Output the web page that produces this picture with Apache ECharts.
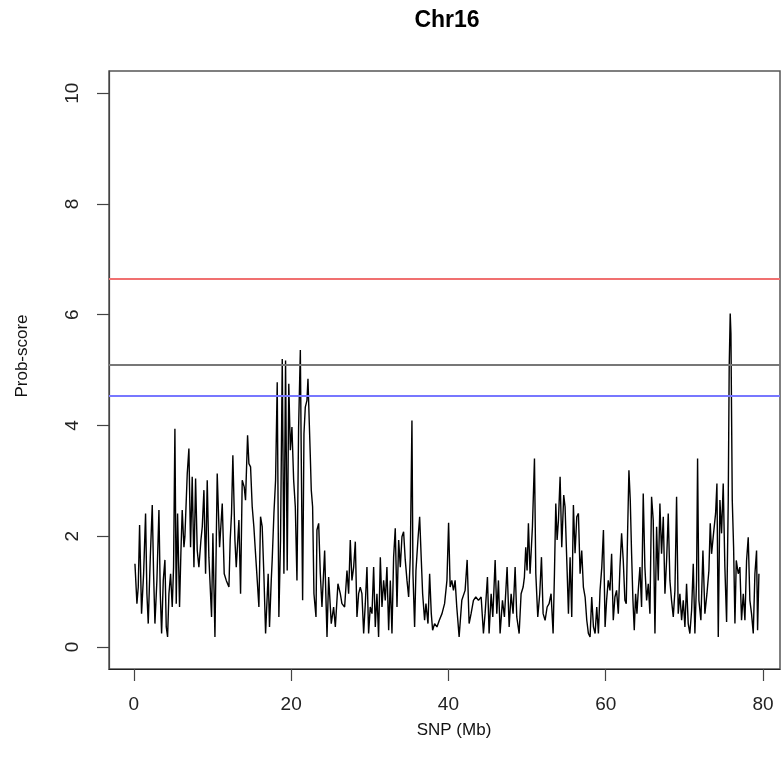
<!DOCTYPE html>
<html>
<head>
<meta charset="utf-8">
<script src="https://cdn.jsdelivr.net/npm/echarts@6/dist/echarts.min.js"></script>
<style>
html,body{margin:0;padding:0;background:#fff;}
#chart{width:781px;height:773px;}
</style>
</head>
<body>
<div id="chart"></div>
<script>
const chartTitle = 'Chr16';
const xAxisTitle = 'SNP (Mb)';
const yAxisTitle = 'Prob-score';
const xTicks = [0, 20, 40, 60, 80];
const yTicks = [0, 2, 4, 6, 8, 10];
const thresholdRed = 6.64;
const thresholdGrey = 5.10;
const thresholdBlue = 4.53;

const snpMb = [
0.14,0.39,0.56,0.73,0.98,1.24,1.49,1.66,1.83,2.09,2.34,2.51,2.68,2.93,3.19,3.36,3.53,3.74,3.95,4.12,
4.29,4.46,4.67,4.88,5.05,5.22,5.39,5.56,5.81,5.98,6.15,6.37,6.49,6.79,7.00,7.21,7.42,7.64,7.85,8.06,
8.27,8.53,8.70,8.91,9.12,9.33,9.54,9.88,10.05,10.31,10.60,10.90,11.24,11.49,11.75,12.09,12.25,12.42,12.59,12.85,
13.02,13.36,13.57,13.78,14.03,14.20,14.46,14.63,14.84,15.05,15.26,15.47,15.69,15.90,16.11,16.32,16.53,16.75,17.08,17.25,
17.47,17.59,17.81,18.02,18.23,18.44,18.65,18.87,19.08,19.29,19.50,19.70,19.90,20.10,20.32,20.53,20.74,20.95,21.17,21.29,
21.46,21.63,21.80,22.01,22.14,22.31,22.44,22.56,22.73,22.90,23.16,23.28,23.50,23.71,23.92,24.26,24.56,24.77,25.10,25.40,
25.62,25.95,26.25,26.46,26.80,27.10,27.31,27.52,27.73,27.95,28.16,28.37,28.58,28.79,29.00,29.22,29.43,29.64,29.85,30.06,
30.28,30.49,30.70,30.91,31.12,31.34,31.55,31.76,31.97,32.18,32.40,32.61,32.82,33.03,33.24,33.46,33.67,33.88,34.09,34.30,
34.51,34.73,34.94,35.15,35.36,35.49,35.70,35.87,36.12,36.34,36.55,36.72,36.97,37.14,37.40,37.61,37.82,37.99,38.24,38.54,
38.84,39.18,39.51,39.81,40.02,40.22,40.43,40.64,40.85,41.06,41.36,41.70,42.12,42.38,42.63,42.88,43.18,43.48,43.82,44.16,
44.45,44.66,44.96,45.17,45.43,45.64,45.94,46.15,46.36,46.57,46.87,47.12,47.46,47.72,47.97,48.22,48.48,48.69,48.99,49.24,
49.50,49.66,49.83,50.00,50.17,50.38,50.68,50.94,51.11,51.36,51.61,51.83,52.04,52.29,52.55,52.80,53.05,53.31,53.48,53.65,
53.82,53.99,54.20,54.41,54.66,54.83,55.09,55.26,55.47,55.68,55.89,56.10,56.32,56.53,56.74,56.95,57.16,57.38,57.59,57.80,
58.01,58.22,58.44,58.65,58.86,59.07,59.28,59.50,59.71,59.92,60.11,60.32,60.54,60.75,60.96,61.17,61.38,61.60,61.81,62.02,
62.23,62.44,62.61,62.78,62.95,63.12,63.29,63.46,63.63,63.80,63.97,64.14,64.35,64.56,64.77,64.98,65.20,65.41,65.62,65.83,
66.04,66.26,66.47,66.68,66.89,67.10,67.32,67.53,67.74,67.95,68.16,68.37,68.59,68.80,69.01,69.22,69.43,69.65,69.86,70.07,
70.28,70.49,70.70,70.92,71.13,71.34,71.55,71.68,71.85,72.10,72.36,72.61,72.87,73.12,73.29,73.46,73.71,73.97,74.14,74.31,
74.52,74.73,74.94,75.15,75.37,75.58,75.70,75.83,75.92,76.09,76.26,76.43,76.60,76.85,77.06,77.27,77.49,77.70,77.91,78.12,
78.33,78.54,78.76,78.97,79.18,79.31,79.48
];

const probScore = [
1.50,0.78,1.08,2.20,0.60,1.32,2.41,0.96,0.42,1.62,2.56,1.32,0.42,1.20,2.47,0.96,0.24,1.20,1.57,0.36,
0.18,0.96,1.32,0.72,1.44,3.94,0.78,2.41,0.72,1.69,2.47,1.80,1.99,3.13,3.58,1.80,3.07,1.44,3.04,1.74,
1.44,1.93,2.17,2.83,1.32,3.01,1.62,0.54,2.05,0.18,3.13,1.80,2.59,1.32,1.20,1.08,1.93,2.41,3.46,1.93,
1.44,2.29,0.96,3.01,2.89,2.65,3.82,3.31,3.25,2.53,2.17,1.69,1.20,0.72,2.35,2.17,1.32,0.24,1.32,0.36,
1.20,1.57,2.41,3.01,4.78,0.54,1.93,5.20,1.32,5.17,1.38,4.75,3.55,3.97,3.01,2.53,1.20,3.97,5.36,3.37,
0.84,3.85,4.33,4.45,4.84,4.03,3.43,2.83,2.53,0.96,0.54,2.11,2.23,1.32,0.72,1.74,0.18,1.26,0.42,0.72,
0.36,1.14,0.96,0.78,0.72,1.38,0.96,1.93,1.20,1.44,1.90,0.54,0.96,1.08,0.96,0.24,0.78,1.44,0.24,0.72,
0.60,1.44,0.36,0.96,0.18,1.62,0.72,1.20,0.84,1.44,0.30,1.20,0.24,1.62,2.14,0.72,1.93,1.44,1.99,2.08,
1.57,1.20,0.90,1.62,4.09,1.32,0.36,1.38,1.93,2.35,1.57,0.96,0.48,0.78,0.42,1.32,0.60,0.30,0.42,0.36,
0.48,0.60,0.78,1.20,2.24,1.08,1.20,1.02,1.20,0.72,0.18,0.84,1.02,1.57,0.42,0.60,0.84,0.90,0.84,0.90,
0.24,0.60,1.26,0.24,0.96,0.54,1.57,0.60,1.20,0.24,0.84,0.54,1.44,0.36,0.96,0.60,1.44,0.54,0.24,0.96,
1.08,1.26,1.80,1.38,2.23,1.32,2.17,3.40,1.32,0.54,0.96,1.62,0.60,0.48,0.72,0.78,0.96,0.24,1.32,2.59,
1.93,2.29,3.07,1.80,2.74,2.53,1.38,0.60,1.62,0.54,2.56,1.69,2.35,2.41,1.32,1.74,1.08,0.90,0.48,0.24,
0.18,0.90,0.36,0.24,0.72,0.24,1.02,1.44,2.11,0.36,0.84,1.20,1.02,1.68,0.48,0.90,1.02,0.60,1.44,2.05,
1.56,0.84,0.78,2.05,3.19,2.65,1.68,0.84,0.30,0.96,0.60,1.02,1.44,0.72,2.77,1.44,0.84,1.14,0.60,2.71,
2.29,0.24,2.17,1.20,2.59,1.68,2.35,0.96,1.56,2.41,1.20,0.84,0.54,1.02,2.71,0.60,0.96,0.48,0.84,0.36,
1.14,0.42,0.24,0.66,1.50,0.24,1.20,3.40,0.84,0.48,1.74,0.60,0.96,1.38,2.23,1.68,2.05,2.41,2.95,0.18,
2.65,2.05,2.95,1.44,0.45,2.65,5.05,6.02,5.66,2.65,1.80,0.42,1.56,1.32,1.44,0.48,0.96,0.48,1.56,1.98,
0.84,0.60,0.24,1.32,1.74,0.30,1.32
];

const seriesData = snpMb.map((x, i) => [x, probScore[i]]);

const chart = echarts.init(document.getElementById('chart'), null, {renderer: 'canvas'});
const fontFamily = '"Liberation Sans", Arial, sans-serif';

const option = {
  animation: false,
  backgroundColor: '#fff',
  grid: {
    left: 109, right: 1, top: 71, bottom: 104,
    show: true, borderColor: '#555', borderWidth: 1.5, backgroundColor: 'transparent'
  },
  xAxis: {
    type: 'value',
    min: -3.16, max: 82.16,
    axisLine: {show: true, onZero: false, lineStyle: {color: '#222', width: 1.2}},
    axisTick: {show: true, length: 12, lineStyle: {color: '#444', width: 1.2}, customValues: xTicks},
    axisLabel: {show: true, margin: 26, fontSize: 19, color: '#222', fontFamily: fontFamily, customValues: xTicks},
    splitLine: {show: false}
  },
  yAxis: {
    type: 'value',
    min: -0.4, max: 10.4,
    axisLine: {show: true, onZero: false, lineStyle: {color: '#444', width: 1.2}},
    axisTick: {show: true, length: 12, lineStyle: {color: '#444', width: 1.2}, customValues: yTicks},
    axisLabel: {show: true, margin: 27, fontSize: 19, color: '#222', fontFamily: fontFamily, rotate: 90, customValues: yTicks},
    splitLine: {show: false}
  },
  graphic: [
    {type: 'text', position: [447, 21], style: {text: chartTitle, fontSize: 23, fontWeight: 'bold', fill: '#000', fontFamily: fontFamily, align: 'center', verticalAlign: 'middle'}},
    {type: 'text', position: [454, 730], style: {text: xAxisTitle, fontSize: 17, fill: '#111', fontFamily: fontFamily, align: 'center', verticalAlign: 'middle'}},
    {type: 'text', position: [22, 356], rotation: Math.PI / 2, style: {text: yAxisTitle, fontSize: 17, fill: '#111', fontFamily: fontFamily, align: 'center', verticalAlign: 'middle'}}
  ],
  series: [
    {
      type: 'line',
      data: seriesData,
      showSymbol: false,
      symbol: 'none',
      lineStyle: {color: '#000', width: 1.4},
      z: 3,
      markLine: {
        silent: true,
        symbol: 'none',
        label: {show: false},
        data: [
          {yAxis: thresholdRed, lineStyle: {color: '#f07070', width: 2, type: 'solid'}},
          {yAxis: thresholdGrey, lineStyle: {color: '#777', width: 2, type: 'solid'}},
          {yAxis: thresholdBlue, lineStyle: {color: '#7777ff', width: 2, type: 'solid'}}
        ]
      }
    }
  ]
};
chart.setOption(option);
</script>
</body>
</html>
